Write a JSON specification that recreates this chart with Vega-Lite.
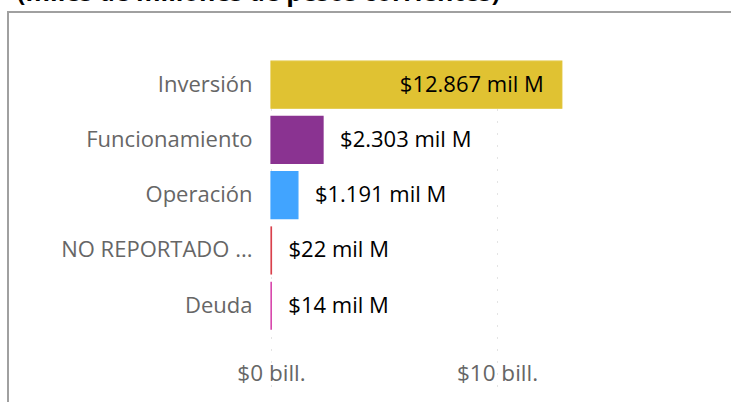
{
  "$schema": "https://vega.github.io/schema/vega-lite/v6.json",
  "autosize": "none",
  "padding": {"left": 8, "top": 12, "right": 0, "bottom": 0},
  "width": 740,
  "height": 400,
  "background": "white",
  "config": {"view": {"stroke": "#a0a0a0", "strokeWidth": 2}, "font": "Open Sans"},
  "title": {
    "text": "(miles de millones de pesos corrientes)",
    "anchor": "start",
    "frame": "group",
    "dx": 9,
    "offset": 0,
    "dy": 14,
    "baseline": "alphabetic",
    "fontSize": 25,
    "fontWeight": "bold",
    "color": "#000000",
    "font": "Open Sans"
  },
  "data": {
    "values": [
      {"categoria": "Inversión", "valor": 12867, "etiqueta": "$12.867 mil M"},
      {"categoria": "Funcionamiento", "valor": 2303, "etiqueta": "$2.303 mil M"},
      {"categoria": "Operación", "valor": 1191, "etiqueta": "$1.191 mil M"},
      {"categoria": "NO REPORTADO ...", "valor": 22, "etiqueta": "$22 mil M"},
      {"categoria": "Deuda", "valor": 14, "etiqueta": "$14 mil M"}
    ]
  },
  "encoding": {
    "y": {
      "field": "categoria",
      "type": "nominal",
      "sort": null,
      "scale": {"paddingInner": 0.15, "paddingOuter": 0.42, "range": [26, 340.4]},
      "axis": {
        "title": null,
        "orient": "left",
        "offset": -244,
        "ticks": false,
        "domain": false,
        "grid": false,
        "labelPadding": 0,
        "labelFontSize": 22,
        "labelColor": "#666666",
        "labelFont": "Open Sans",
        "labelLimit": 300
      }
    }
  },
  "layer": [
    {
      "mark": {"type": "bar", "strokeWidth": 1.2},
      "encoding": {
        "x": {
          "field": "valor",
          "type": "quantitative",
          "scale": {"domain": [-11637, 21106], "nice": false, "zero": false},
          "axis": {
            "title": null,
            "orient": "bottom",
            "values": [0, 10000],
            "labelExpr": "'$' + (datum.value / 1000) + ' bill.'",
            "offset": -50,
            "ticks": false,
            "domain": false,
            "labelPadding": 0,
            "labelBaseline": "top",
            "labelFontSize": 22.5,
            "labelColor": "#666666",
            "labelFont": "Open Sans",
            "grid": true,
            "gridColor": "#c8c8c8",
            "gridDash": [1, 11],
            "gridWidth": 1
          }
        },
        "x2": {"datum": 0},
        "color": {
          "field": "categoria",
          "type": "nominal",
          "scale": {
            "domain": ["Inversión", "Funcionamiento", "Operación", "NO REPORTADO ...", "Deuda"],
            "range": ["#E0C232", "#8A3391", "#41A4FF", "#D9414C", "#D63FA8"]
          },
          "legend": null
        },
        "stroke": {
          "field": "categoria",
          "type": "nominal",
          "scale": {
            "domain": ["Inversión", "Funcionamiento", "Operación", "NO REPORTADO ...", "Deuda"],
            "range": ["#E0C232", "#8A3391", "#41A4FF", "#D9414C", "#D63FA8"]
          },
          "legend": null
        }
      }
    },
    {
      "transform": [{"filter": "datum.valor > 5000"}],
      "mark": {"type": "text", "align": "right", "baseline": "middle", "dx": -18, "fontSize": 22, "color": "#000000", "font": "Open Sans"},
      "encoding": {
        "x": {"field": "valor", "type": "quantitative"},
        "text": {"field": "etiqueta"}
      }
    },
    {
      "transform": [{"filter": "datum.valor <= 5000"}],
      "mark": {"type": "text", "align": "left", "baseline": "middle", "dx": 17, "fontSize": 22, "color": "#000000", "font": "Open Sans"},
      "encoding": {
        "x": {"field": "valor", "type": "quantitative"},
        "text": {"field": "etiqueta"}
      }
    }
  ]
}
